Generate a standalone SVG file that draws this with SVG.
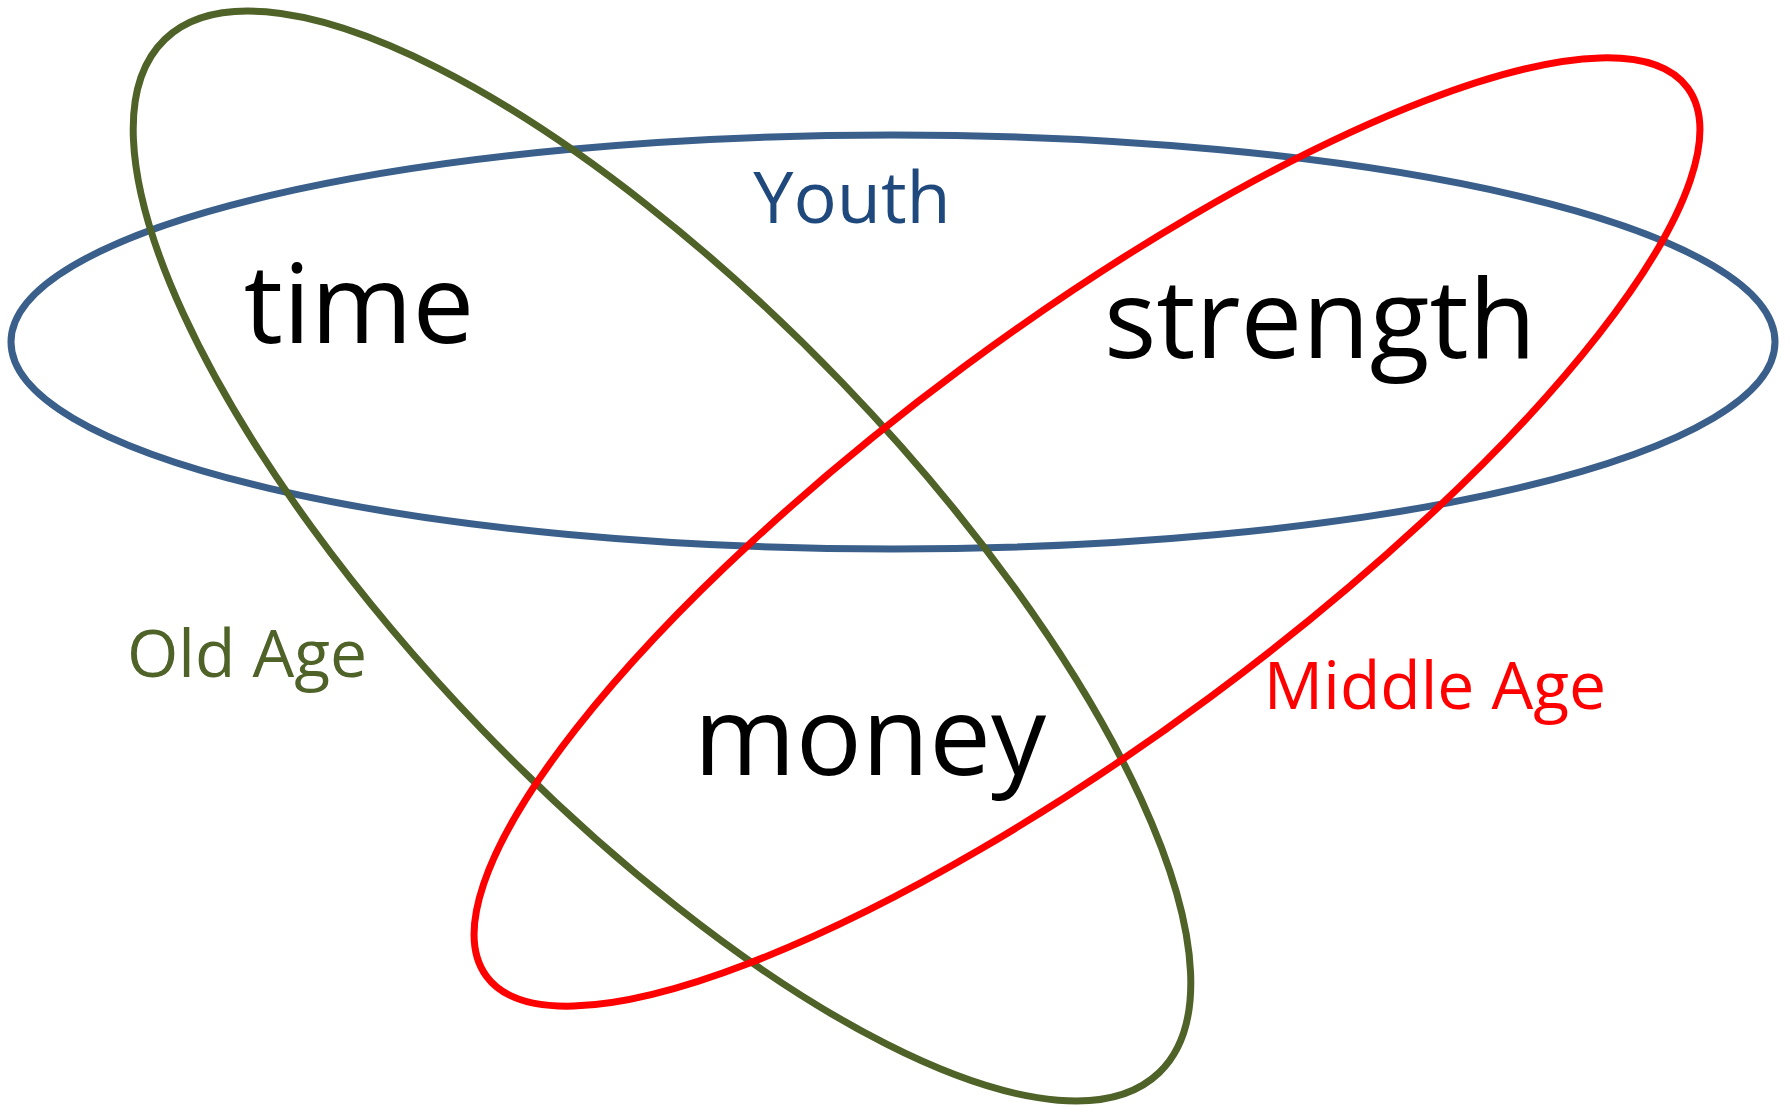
<svg xmlns="http://www.w3.org/2000/svg" width="1790" height="1110" viewBox="0 0 1790 1110">
<style>
.ring{fill:none;stroke-width:7}
.big{font-family:"Open Sans","Noto Sans","Liberation Sans",sans-serif;font-size:110px;fill:#000;text-anchor:middle}
.lab{font-family:"Open Sans","Noto Sans","Liberation Sans",sans-serif;text-anchor:middle}
</style>
<rect width="1790" height="1110" fill="#fff"/>
<g id="youth">
<ellipse class="ring" cx="893" cy="342" rx="882" ry="207" stroke="#3A5F8B"/>
<text class="lab" x="852" y="223" font-size="72" fill="#1F497D">Youth</text>
</g>
<g id="old-age">
<ellipse class="ring" cx="662" cy="556" rx="717" ry="250" transform="rotate(46.1 662 556)" stroke="#4F6228"/>
<text class="lab" x="247" y="677" font-size="66" fill="#4F6228">Old Age</text>
</g>
<g id="middle-age">
<ellipse class="ring" cx="1087" cy="532" rx="747" ry="206" transform="rotate(-36.5 1087 532)" stroke="#FF0000"/>
<text class="lab" x="1435" y="709" font-size="66" fill="#FF0000">Middle Age</text>
</g>
<g id="words">
<text class="big" x="359" y="343">time</text>
<text class="big" x="1320" y="358">strength</text>
<text class="big" x="870" y="775">money</text>
</g>
<g id="connectors"></g>
</svg>
